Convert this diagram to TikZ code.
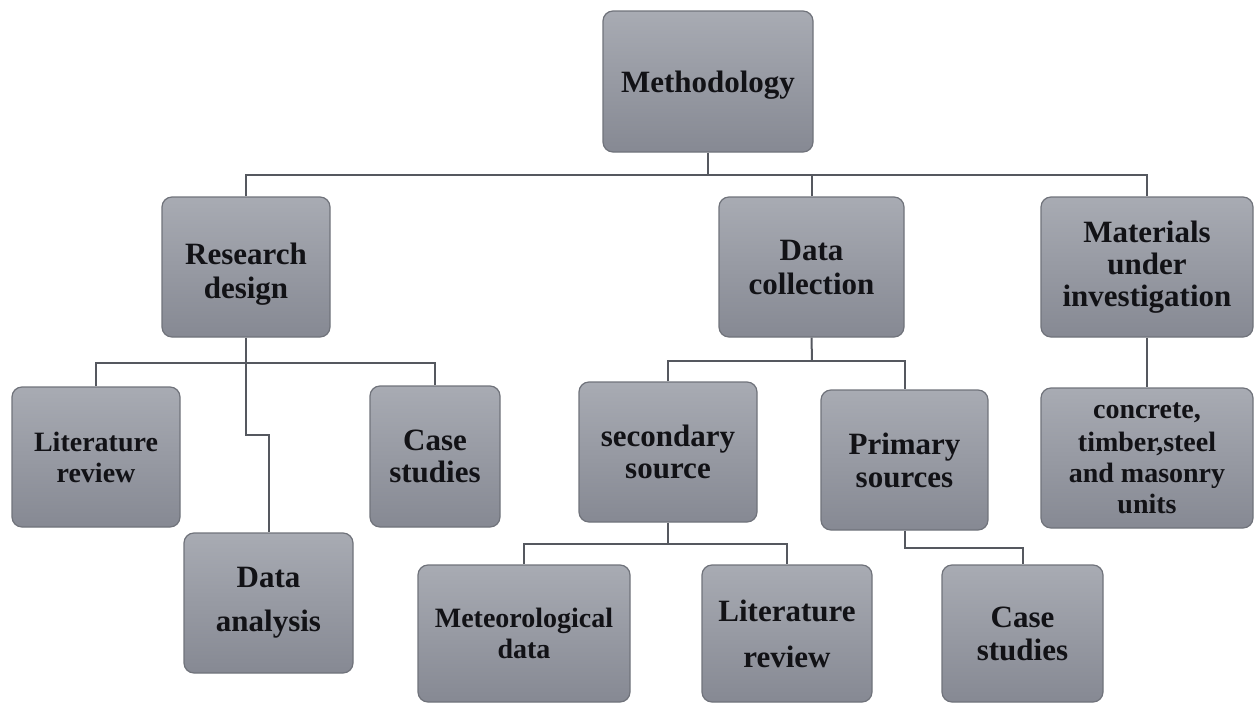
\documentclass[tikz,border=0pt]{standalone}
\usepackage{fontspec}
\setmainfont{Liberation Serif}
\definecolor{boxtop}{RGB}{168,171,179}
\definecolor{boxbot}{RGB}{134,137,147}
\definecolor{boxline}{RGB}{112,115,123}
\definecolor{conn}{RGB}{85,88,95}
\definecolor{txt}{RGB}{18,18,22}
\tikzset{
  box/.style={draw=boxline, line width=1.2pt, rounded corners=10pt,
    top color=boxtop, bottom color=boxbot, align=center, inner sep=0pt,
    text=txt, font=\fontsize{31}{34}\selectfont\bfseries},
  smallbox/.style={box, font=\fontsize{28}{31}\selectfont\bfseries},
  conn/.style={draw=conn, line width=2pt}
}
\begin{document}
\begin{tikzpicture}[x=1pt,y=-1pt]
\useasboundingbox (0,0) rectangle (1254,704);
% level 0
\node[box, minimum width=210pt, minimum height=141pt] (meth) at (708,81.5) {\raisebox{-4pt}[21pt][7pt]{Methodology}};
% level 1
\node[box, minimum width=168pt, minimum height=140pt] (rd) at (246,267) {\\[-32pt]\\Research\\design};
\node[box, minimum width=185pt, minimum height=140pt] (dc) at (811.5,267) {Data\\collection};
\node[box, minimum width=212pt, minimum height=140pt, font=\fontsize{31}{32}\selectfont\bfseries] (mat) at (1147,267) {Materials\\under\\investigation};
% level 2
\node[smallbox, minimum width=168pt, minimum height=140pt] (lr1) at (96,457) {Literature\\review};
\node[box, minimum width=169pt, minimum height=140pt] (da) at (268.5,603) {Data\\[10pt]analysis};
\node[box, minimum width=130pt, minimum height=141pt, font=\fontsize{31}{32}\selectfont\bfseries] (cs1) at (435,456.5) {Case\\studies};
\node[box, minimum width=178pt, minimum height=140pt, font=\fontsize{31}{32}\selectfont\bfseries] (ss) at (668,452) {secondary\\source};
\node[box, minimum width=167pt, minimum height=140pt, font=\fontsize{31}{33}\selectfont\bfseries] (ps) at (904.5,460) {Primary\\sources};
\node[smallbox, minimum width=212pt, minimum height=140pt] (con) at (1147,458) {concrete,\\[2pt]timber,steel\\and masonry\\units};
% level 3
\node[smallbox, minimum width=212pt, minimum height=137pt] (met) at (524,633.5) {Meteorological\\data};
\node[box, minimum width=170pt, minimum height=137pt] (lr2) at (787,633.5) {Literature\\[12pt]review};
\node[box, minimum width=161pt, minimum height=137pt, font=\fontsize{31}{33}\selectfont\bfseries] (cs2) at (1022.5,633.5) {Case\\studies};
% connectors
\coordinate (b1) at (708,175);
\draw[conn] (meth.south) -- (b1);
\draw[conn] (rd.north) |- (mat.north |- b1) -- (mat.north);
\draw[conn] (dc.north) -- (dc.north |- b1);
\coordinate (b2) at (246,363);
\coordinate (k1) at (246,435);
\draw[conn] (rd.south) -- (b2);
\draw[conn] (lr1.north) |- (cs1.north |- b2) -- (cs1.north);
\draw[conn] (b2) -- (k1) -| (da.north);
\coordinate (b3) at (812,361);
\draw[conn] (dc.south) -- (b3);
\draw[conn] (ss.north) |- (ps.north |- b3) -- (ps.north);
\coordinate (b4) at (668,544);
\draw[conn] (ss.south) -- (b4);
\draw[conn] (met.north) |- (lr2.north |- b4) -- (lr2.north);
\coordinate (b5) at (904.5,548);
\draw[conn] (ps.south) -- (b5) -| (cs2.north);
\draw[conn] (mat.south) -- (con.north);
\end{tikzpicture}
\end{document}
